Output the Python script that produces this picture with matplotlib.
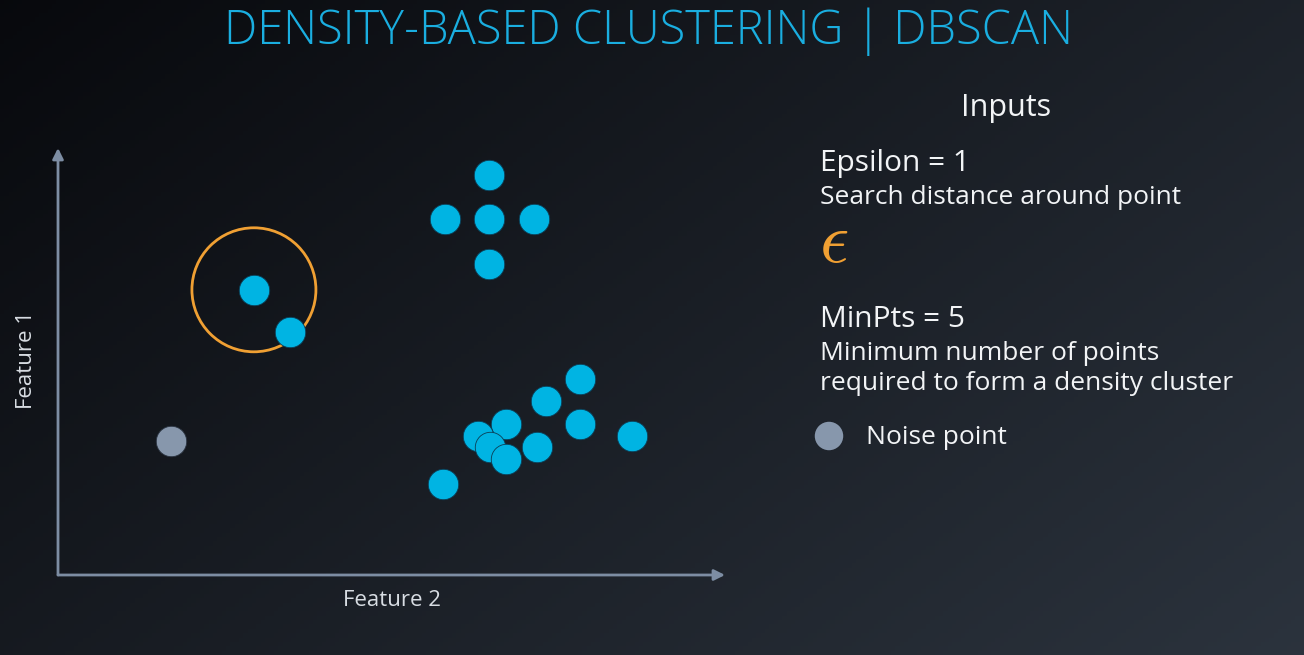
import numpy as np
import matplotlib.pyplot as plt
from matplotlib.patches import Circle

# data in feature units (epsilon = 1)
feat2 = [6.95, 6.24, 6.95, 7.68, 6.95,
         3.16, 3.74,
         8.42, 7.87, 7.23, 8.42, 6.77, 9.26, 6.97, 7.73, 7.23, 6.21]
feat1 = [6.45, 5.74, 5.74, 5.74, 5.02,
         4.60, 3.92,
         3.16, 2.81, 2.44, 2.44, 2.24, 2.24, 2.06, 2.06, 1.87, 1.47]
noise_x, noise_y = [1.82], [2.16]
eps_center = (3.16, 4.60)
epsilon = 1.0
min_pts = 5

W, H = 1304, 655
fig = plt.figure(figsize=(W / 100, H / 100), dpi=100)
plt.rcParams['font.family'] = ['Open Sans', 'DejaVu Sans']
plt.rcParams['mathtext.fontset'] = 'cm'

# gradient background
bg = fig.add_axes([0, 0, 1, 1])
gx, gy = np.meshgrid(np.linspace(0, 1, 300), np.linspace(0, 1, 150))
g = 0.6 * gx + 0.4 * gy
c0 = np.array([0.03, 0.035, 0.05])
c1 = np.array([0.17, 0.20, 0.24])
img = c0 + (c1 - c0) * g[..., None]
bg.imshow(img, aspect='auto', extent=[0, 1, 0, 1], origin='upper')
bg.set_xlim(0, 1)
bg.set_ylim(0, 1)
bg.axis('off')

ax = fig.add_axes([58 / W, 80 / H, 667 / W, 427 / H])
ax.set_xlim(0, 667 / 62)
ax.set_ylim(0, 427 / 62)
ax.patch.set_alpha(0)
for s in ax.spines.values():
    s.set_visible(False)
ax.set_xticks([])
ax.set_yticks([])

axcol = '#7d8da3'
ax.annotate('', xy=(1, 0), xytext=(0, 0), xycoords='axes fraction',
            arrowprops=dict(arrowstyle='-|>', color=axcol, lw=2, mutation_scale=16,
                            shrinkA=0, shrinkB=0))
ax.annotate('', xy=(0, 1), xytext=(0, 0), xycoords='axes fraction',
            arrowprops=dict(arrowstyle='-|>', color=axcol, lw=2, mutation_scale=16,
                            shrinkA=0, shrinkB=0))

ax.add_patch(Circle(eps_center, epsilon, fill=False, ec='#f0a033', lw=2, zorder=3))
ax.scatter(feat2, feat1, s=480, c='#00b4e3', edgecolors='#0b3d55', linewidths=0.6,
           zorder=4, clip_on=False)
ax.scatter(noise_x, noise_y, s=480, c='#8797ac', edgecolors='#2a3340', linewidths=0.6,
           zorder=4, clip_on=False)

fig.text(392 / W, 1 - 600 / H, 'Feature 2', color='#d8dde3', fontsize=16,
         ha='center', va='center')
fig.text(27 / W, 1 - 360 / H, 'Feature 1', color='#d8dde3', fontsize=16,
         ha='center', va='center', rotation=90)

fig.text(649 / W, 1 - 32 / H, 'DENSITY-BASED CLUSTERING | DBSCAN', color='#1aaee0',
         fontsize=33.8, fontweight='light', ha='center', va='center')

tc = '#f2f4f6'
fig.text(1006 / W, 1 - 108 / H, 'Inputs', color=tc, fontsize=22, ha='center', va='center')
fig.text(820 / W, 1 - 164 / H, f'Epsilon = {epsilon:g}', color=tc, fontsize=21.5,
         ha='left', va='center')
fig.text(820 / W, 1 - 198 / H, 'Search distance around point', color=tc, fontsize=19,
         ha='left', va='center')
fig.text(819 / W, 1 - 243 / H, r'$\epsilon$', color='#f0a033', fontsize=52,
         ha='left', va='center')
fig.text(820 / W, 1 - 319 / H, f'MinPts = {min_pts}', color=tc, fontsize=21.5,
         ha='left', va='center')
fig.text(820 / W, 1 - 353 / H, 'Minimum number of points', color=tc, fontsize=19,
         ha='left', va='center')
fig.text(820 / W, 1 - 384 / H, 'required to form a density cluster', color=tc, fontsize=19,
         ha='left', va='center')
bg.scatter([829 / W], [1 - 436 / H], s=420, c='#8797ac', edgecolors='none')
fig.text(866 / W, 1 - 437 / H, 'Noise point', color=tc, fontsize=19,
         ha='left', va='center')

fig.savefig('out.png', dpi=100)
